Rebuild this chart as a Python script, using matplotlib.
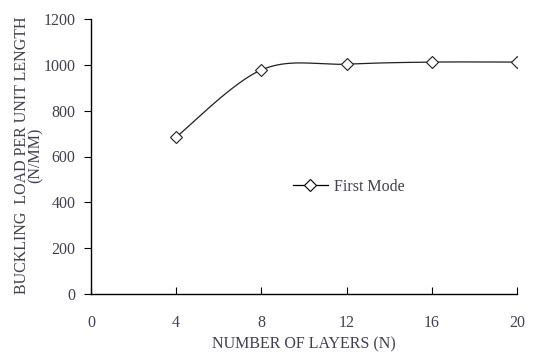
import numpy as np
import matplotlib
matplotlib.use("Agg")
import matplotlib.pyplot as plt

layers = [4, 8, 12, 16, 20]
load = [685, 978, 1003, 1012, 1012]
series_name = "First Mode"
xticks = [0, 4, 8, 12, 16, 20]
yticks = [0, 200, 400, 600, 800, 1000, 1200]

txt = "#404050"
plt.rcParams['font.family'] = ['Liberation Serif', 'DejaVu Serif']

fig = plt.figure(figsize=(5.35, 3.57), dpi=100)
ax = fig.add_axes([91/535, 1-294/357, (517-91)/535, (294-19)/357])
ax.set_xlim(0, 20)
ax.set_ylim(0, 1200)

# Excel-like smoothed curve (cardinal Bezier) in normalized space
x = np.array(layers, float); y = np.array(load, float)
xn = x / 20.0; yn = y / 1200.0 * (275/426)
P = np.column_stack([xn, yn])
pts = []
n = len(P)
for i in range(n - 1):
    p0 = P[i - 1] if i > 0 else P[i]
    p1 = P[i]; p2 = P[i + 1]
    p3 = P[i + 2] if i + 2 < n else P[i + 1]
    c1 = p1 + (p2 - p0) / 6
    c2 = p2 - (p3 - p1) / 6
    t = np.linspace(0, 1, 40)[:, None]
    b = (1-t)**3*p1 + 3*(1-t)**2*t*c1 + 3*(1-t)*t**2*c2 + t**3*p2
    pts.append(b if i == 0 else b[1:])
pts = np.vstack(pts)
cx = pts[:, 0] * 20.0
cy = pts[:, 1] / (275/426) * 1200.0
ax.plot(cx, cy, color='#202020', lw=0.9, zorder=2)
ax.plot(layers, load, linestyle='none', marker='D', markersize=6,
        markerfacecolor='white', markeredgecolor='#202020', markeredgewidth=0.8, zorder=3)
# legend proxy
ax.plot([], [], color='black', lw=0.9, marker='D', markersize=6,
        markerfacecolor='white', markeredgecolor='black', markeredgewidth=0.8, label=series_name)
leg = ax.legend(loc='center left', bbox_to_anchor=(0.44, 0.39), frameon=False,
                fontsize=11.5, handlelength=2.2, handletextpad=0.4)
for t in leg.get_texts():
    t.set_color(txt)

ax.set_xticks(xticks)
ax.set_yticks(yticks)
for s in ['top', 'right']:
    ax.spines[s].set_visible(False)
for s in ['left', 'bottom']:
    ax.spines[s].set_linewidth(1.0)
ax.tick_params(axis='x', direction='in', length=5, labelsize=11.5, labelcolor=txt, pad=15)
ax.tick_params(axis='y', direction='out', length=5, labelsize=11.5, labelcolor=txt, pad=6)
ax.set_xlabel("NUMBER OF LAYERS (N)", fontsize=11.5, color=txt, labelpad=4)
fig.text(29/535, 1 - 155/357, "BUCKLING  LOAD PER UNIT LENGTH\n(N/MM)", fontsize=11.5,
         color=txt, rotation=90, linespacing=0.8, ha='center', va='center',
         multialignment='center')
fig.savefig("out.png", dpi=100)
